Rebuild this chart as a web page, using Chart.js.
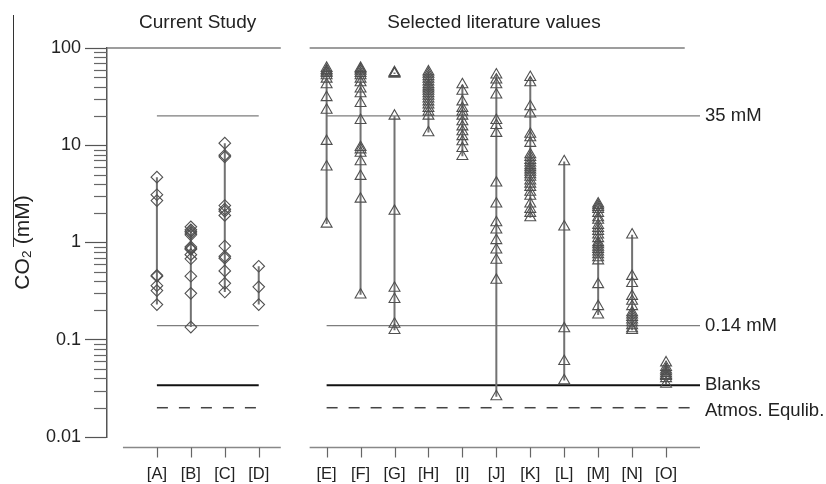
<!DOCTYPE html>
<html>
<head>
<meta charset="utf-8">
<script src="https://cdn.jsdelivr.net/npm/chart.js@4.4.1/dist/chart.umd.min.js"></script>
<style>
  html, body { margin: 0; padding: 0; background: #fff; }
  #wrap { width: 826px; height: 484px; }
</style>
</head>
<body>
<div id="wrap"><canvas id="co2Chart"></canvas></div>
<script>
// categories (the literature group sits one slot to the right of the current study)
const currentLabels = ['[A]', '[B]', '[C]', '[D]'];
const literatureLabels = ['[E]', '[F]', '[G]', '[H]', '[I]', '[J]', '[K]', '[L]', '[M]', '[N]', '[O]'];

// CO2 (mM) values
const valsA = [4.7, 3.1, 2.7, 0.46, 0.45, 0.36, 0.32, 0.23];
const valsB = [1.45, 1.35, 1.3, 1.25, 1.2, 0.9, 0.87, 0.85, 0.75, 0.68, 0.45, 0.3, 0.135];
const valsC = [10.5, 7.9, 7.6, 2.4, 2.2, 2.1, 1.9, 0.92, 0.72, 0.69, 0.51, 0.38, 0.31];
const valsD = [0.57, 0.35, 0.23];
const valsE = [62, 59, 57, 55, 52, 48, 42, 31, 23, 11, 6, 1.55];
const valsF = [62, 60, 58, 55, 52, 48, 44, 38, 34, 27, 18, 9.5, 9, 8.3, 6.8, 4.8, 2.8, 0.29];
const valsG = [56, 55, 54, null, 20, 2.1, 0.34, 0.26, 0.145, 0.125]; // null: no range line above 20
const valsH = [57, 54, 51, 48, 45, 42, 40, 38, 36, 34, 32, 30, 28, 26, 24, 22, 20, 13.5];
const valsI = [42, 36, 28, 24, 22, 20, 17.5, 15.5, 13.8, 12.3, 10.9, 9.3, 7.7];
const valsJ = [53, 47, 42, 33, 18, 16, 13.3, 4.1, 2.5, 1.6, 1.35, 1.05, 0.84, 0.66, 0.41, 0.026];
const valsK = [50, 44, 25, 21, 13, 12, 10.5, 8, 7.5, 7, 6.6, 6.2, 5.9, 5.6, 5.3, 5, 4.7, 4.3, 4, 3.7, 3.3, 3, 2.5, 2.2, 2, 1.8];
const valsL = [6.8, 1.45, 0.13, 0.06, 0.038];
const valsM = [2.5, 2.4, 2.3, 2.2, 2.0, 1.8, 1.7, 1.5, 1.4, 1.3, 1.2, 1.1, 1.0, 0.95, 0.9, 0.85, 0.8, 0.75, 0.7, 0.65, 0.37, 0.22, 0.18];
const valsN = [1.2, 0.45, 0.38, 0.28, 0.25, 0.22, 0.19, 0.18, 0.17, 0.16, 0.15, 0.14, 0.13, 0.125];
const valsO = [0.058, 0.052, 0.049, 0.047, 0.045, 0.043, 0.042, 0.04, 0.035];

const currentSeries = [valsA, valsB, valsC, valsD];
const literatureSeries = [valsE, valsF, valsG, valsH, valsI, valsJ, valsK, valsL, valsM, valsN, valsO];

// reference levels (mM)
const topLevel = 100;
const upperLevel = 20;
const lowerLevel = 0.14;
const blanksLevel = 0.034;
const atmosLevel = 0.02;
const levelLabels = ['35 mM', '0.14 mM', 'Blanks', 'Atmos. Equlib.'];

const yTickLabels = ['0.01', '0.1', '1', '10', '100'];
const panelTitles = ['Current Study', 'Selected literature values'];

const FONT = "'Liberation Sans', Arial, sans-serif";
const X_MIN = -1.47, X_MAX = 16;
const litOffset = currentLabels.length + 1;

const tickText = {};
currentLabels.forEach((l, i) => { tickText[i] = l; });
literatureLabels.forEach((l, i) => { tickText[i + litOffset] = l; });

function seriesSet(vals, pos, shape) {
  return {
    data: vals.map(v => ({ x: pos, y: v })),
    showLine: true,
    spanGaps: false,
    borderColor: '#727272',
    borderWidth: 2,
    pointStyle: shape,
    pointRadius: shape === 'triangle' ? 6.3 : 5.8,
    pointBackgroundColor: 'rgba(0,0,0,0)',
    pointBorderColor: '#505050',
    pointBorderWidth: 1.1,
    clip: false,
    order: 1
  };
}

function levelSet(level, x0, x1, color, width, dash) {
  return {
    data: [{ x: x0, y: level }, { x: x1, y: level }],
    showLine: true,
    borderColor: color,
    borderWidth: width,
    borderDash: dash || [],
    pointRadius: 0,
    clip: false,
    order: 2
  };
}

const datasets = [];
currentSeries.forEach((vals, i) => datasets.push(seriesSet(vals, i, 'rectRot')));
literatureSeries.forEach((vals, i) => datasets.push(seriesSet(vals, i + litOffset, 'triangle')));

const p1End = currentLabels.length - 1;
const p2Start = litOffset;
datasets.push(levelSet(topLevel, X_MIN, 3.65, '#7d7d7d', 1.5));
datasets.push(levelSet(topLevel, 4.5, 15.55, '#7d7d7d', 1.5));
[[0, p1End], [p2Start, X_MAX]].forEach(([a, b]) => {
  datasets.push(levelSet(upperLevel, a, b, '#7d7d7d', 1.3));
  datasets.push(levelSet(lowerLevel, a, b, '#7d7d7d', 1.3));
  datasets.push(levelSet(blanksLevel, a, b, '#111', 2));
  datasets.push(levelSet(atmosLevel, a, b, '#444', 1.5, [11, 11]));
});

const decor = {
  id: 'decor',
  afterDraw(chart) {
    const { ctx, chartArea } = chart;
    const x = chart.scales.x, y = chart.scales.y;
    ctx.save();

    // minor ticks on the log axis
    ctx.strokeStyle = '#666';
    ctx.lineWidth = 1.2;
    y.ticks.forEach(t => {
      if (t.major) return;
      const py = Math.round(y.getPixelForValue(t.value)) + 0.5;
      ctx.beginPath();
      ctx.moveTo(chartArea.left - 13, py);
      ctx.lineTo(chartArea.left, py);
      ctx.stroke();
    });

    // broken bottom axis with category ticks
    const base = chartArea.bottom + 10.5;
    ctx.strokeStyle = '#888';
    ctx.lineWidth = 1.5;
    [[-1, 3.65], [4.5, X_MAX]].forEach(([a, b]) => {
      ctx.beginPath();
      ctx.moveTo(x.getPixelForValue(a), base);
      ctx.lineTo(x.getPixelForValue(b), base);
      ctx.stroke();
    });
    ctx.strokeStyle = '#666';
    ctx.lineWidth = 1.2;
    Object.keys(tickText).forEach(k => {
      const px = Math.round(x.getPixelForValue(+k)) + 0.5;
      ctx.beginPath();
      ctx.moveTo(px, base);
      ctx.lineTo(px, base + 10);
      ctx.stroke();
    });

    // panel titles
    ctx.fillStyle = '#222';
    ctx.font = '19px ' + FONT;
    ctx.textAlign = 'center';
    ctx.textBaseline = 'middle';
    ctx.fillText(panelTitles[0], x.getPixelForValue(1.2), 23);
    ctx.fillText(panelTitles[1], x.getPixelForValue(9.93), 23);

    // labels at the right end of the reference lines
    ctx.textAlign = 'left';
    ctx.font = '18.5px ' + FONT;
    [upperLevel, lowerLevel, blanksLevel, atmosLevel].forEach((lv, i) => {
      ctx.fillText(levelLabels[i], chartArea.right + 5, y.getPixelForValue(lv) + (i === 3 ? 3 : 0));
    });

    // stray rule above the axis title
    ctx.strokeStyle = '#333';
    ctx.lineWidth = 1;
    ctx.beginPath();
    ctx.moveTo(13.5, 15);
    ctx.lineTo(13.5, 247);
    ctx.stroke();

    ctx.restore();
  }
};

new Chart(document.getElementById('co2Chart'), {
  type: 'scatter',
  data: { datasets },
  options: {
    responsive: true,
    maintainAspectRatio: false,
    animation: false,
    layout: { padding: { top: 48, right: 126, bottom: 0, left: 0 } },
    plugins: { legend: { display: false }, tooltip: { enabled: false } },
    scales: {
      x: {
        type: 'linear',
        min: X_MIN,
        max: X_MAX,
        grid: { display: false },
        border: { display: false },
        afterBuildTicks: (axis) => {
          axis.ticks = Object.keys(tickText).map(k => ({ value: +k }));
        },
        afterFit: (scale) => { scale.height = 47; },
        ticks: {
          autoSkip: false,
          maxRotation: 0,
          padding: 20,
          color: '#222',
          font: { family: FONT, size: 16.5 },
          callback: (v) => tickText[v] || ''
        }
      },
      y: {
        type: 'logarithmic',
        min: 0.01,
        max: 100,
        afterBuildTicks: (axis) => {
          const ticks = [];
          for (let e = -2; e <= 2; e++) {
            for (let m = 1; m <= 9; m++) {
              const v = +(m * Math.pow(10, e)).toPrecision(6);
              if (v <= 100) ticks.push({ value: v, major: m === 1 });
            }
          }
          axis.ticks = ticks;
        },
        afterFit: (scale) => { scale.width = 107; },
        border: { display: true, color: '#555', width: 1.5 },
        grid: {
          drawOnChartArea: false,
          drawTicks: true,
          tickLength: 22,
          tickWidth: 1.2,
          tickColor: (c) => (c.tick && c.tick.major ? '#555' : 'rgba(0,0,0,0)')
        },
        ticks: {
          autoSkip: false,
          padding: 4,
          color: '#222',
          font: { family: FONT, size: 18 },
          callback: (v, i, ticks) => ticks[i].major ? yTickLabels[Math.round(Math.log10(v)) + 2] : ''
        },
        title: {
          display: true,
          text: 'CO₂ (mM)',
          color: '#222',
          font: { family: FONT, size: 21 },
          padding: { top: 11, bottom: 0 }
        }
      }
    }
  },
  plugins: [decor]
});
</script>
</body>
</html>
